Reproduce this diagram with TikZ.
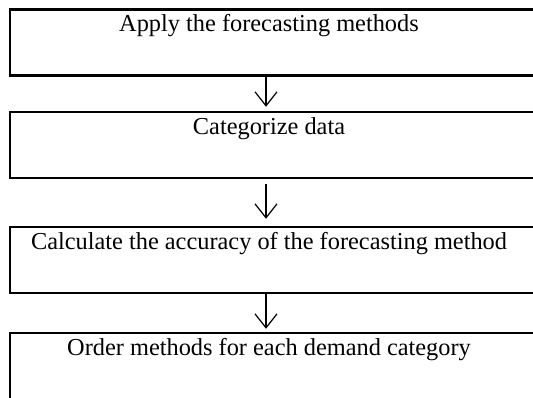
\documentclass[tikz,border=0pt]{standalone}
\usepackage{fontspec}
\setmainfont{Liberation Serif}
\usetikzlibrary{arrows.meta}
\begin{document}
\begin{tikzpicture}[x=1pt,y=-1pt,
  stepbox/.style={draw=black,line width=2.4pt,rectangle,minimum width=535pt,
    minimum height=66pt,inner sep=0pt},
  steptext/.style={anchor=base,inner sep=0pt,font=\fontsize{24.35}{28}\selectfont},
  flow/.style={line width=1.5pt,-{Straight Barb[length=14pt,width=22pt,line width=1.2pt]}}]
  \useasboundingbox (0,0) rectangle (533,398);
  \clip (0,0) rectangle (533,398);
  % process boxes (right edges run off the page)
  \node[stepbox] (b1) at (277.5,42.5) {};
  \node[stepbox] (b2) at (277.5,145) {};
  \node[stepbox] (b3) at (277.5,260) {};
  \node[stepbox] (b4) at (277.5,366) {};
  % column of the connectors and of the captions
  \coordinate (ax) at (266,0);
  \coordinate (tx) at (269,0);
  \node[steptext] (t1) at ([yshift=-23.5pt]b1.north -| tx) {Apply the forecasting methods};
  \node[steptext] (t2) at ([yshift=-23.5pt]b2.north -| tx) {Categorize data};
  \node[steptext] (t3) at ([yshift=-23.5pt]b3.north -| tx) {Calculate the accuracy of the forecasting method};
  \node[steptext] (t4) at ([yshift=-23.5pt]b4.north -| tx) {Order methods for each demand category};
  % connectors
  \draw[flow,shorten >=4pt] (b1.south -| ax) -- (b2.north -| ax);
  \draw[flow,shorten <=5pt,shorten >=7pt] (b2.south -| ax) -- (b3.north -| ax);
  \draw[flow,shorten >=3pt] (b3.south -| ax) -- (b4.north -| ax);
\end{tikzpicture}
\end{document}
